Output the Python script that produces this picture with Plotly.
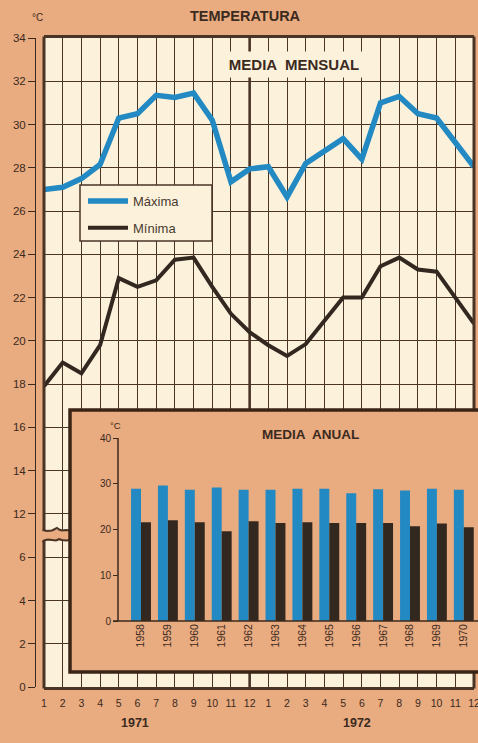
import plotly.graph_objects as go

# ---------------- data ----------------
months_1971 = list(range(1, 13))
months_1972 = list(range(1, 13))
month_labels = [str(m) for m in months_1971] + [str(m) for m in months_1972]
month_index = list(range(1, 25))

maxima = [27.0, 27.1, 27.5, 28.15, 30.3, 30.5, 31.35, 31.25, 31.45, 30.2, 27.35, 27.95,
          28.05, 26.65, 28.2, 28.75, 29.35, 28.4, 31.0, 31.3, 30.5, 30.3, 29.2, 28.05]
minima = [17.9, 19.0, 18.5, 19.8, 22.9, 22.5, 22.8, 23.75, 23.85, 22.5, 21.25, 20.4,
          19.8, 19.3, 19.85, 20.9, 22.0, 22.0, 23.45, 23.85, 23.3, 23.2, 22.0, 20.8]

years = list(range(1958, 1971))
year_labels = [str(y) for y in years]
anual_max = [28.9, 29.6, 28.7, 29.2, 28.7, 28.7, 28.9, 28.9, 27.9, 28.8, 28.5, 28.9, 28.7]
anual_min = [21.6, 22.0, 21.6, 19.6, 21.8, 21.4, 21.6, 21.4, 21.4, 21.4, 20.7, 21.3, 20.5]

y_tick_values = [0, 2, 4, 6, 12, 14, 16, 18, 20, 22, 24, 26, 28, 30, 32, 34]
inset_ticks = [0, 10, 20, 30, 40]

# ---------------- style ----------------
W, H = 478, 743
ML, MR, MT, MB = 35, 0, 38, 56
PW, PH = W - ML - MR, H - MT - MB
TAN = "#e9ab80"
CREAM = "#fcf2dc"
DARK = "#3b2a1e"
GRID = "#4a3426"
BLUE = "#2389c2"
BLACK = "#33281f"
FONT = "Liberation Sans, Arial, sans-serif"


def fx(px):
    return (px - ML) / PW


def fy(py):
    return 1 - (py - MT) / PH


def brk(v):
    # broken axis: values >= 12 are shifted down by 4 (6..12 gap removed)
    return v - 4 if v >= 12 else v


fig = go.Figure()

fig.add_trace(go.Scatter(x=month_index, y=[brk(v) for v in maxima], mode="lines",
                         name="Máxima", legendgroup="a",
                         line=dict(color=BLUE, width=5.5), xaxis="x", yaxis="y"))
fig.add_trace(go.Scatter(x=month_index, y=[brk(v) for v in minima], mode="lines",
                         name="Mínima", legendgroup="b",
                         line=dict(color=BLACK, width=4), xaxis="x", yaxis="y"))

fig.add_trace(go.Bar(x=years, y=anual_max, marker=dict(color=BLUE, line=dict(width=0)),
                     xaxis="x2", yaxis="y2", showlegend=False, name="Máxima anual"))
fig.add_trace(go.Bar(x=years, y=anual_min, marker=dict(color=BLACK, line=dict(width=0)),
                     xaxis="x2", yaxis="y2", showlegend=False, name="Mínima anual"))

mapped_ticks = [brk(v) for v in y_tick_values]

shapes = [
    # cream plot area
    dict(type="rect", xref="paper", yref="paper", x0=fx(44), x1=fx(474), y0=0, y1=1,
         fillcolor=CREAM, line=dict(width=0), layer="below"),
    # thick separator at month 12
    dict(type="line", xref="x", yref="y", x0=12, x1=12, y0=0, y1=30,
         line=dict(color=GRID, width=2.6), layer="below"),
    # left and right frame of the monthly chart
    dict(type="line", xref="paper", yref="paper", x0=fx(44), x1=fx(44), y0=fy(688.5), y1=fy(36.5),
         line=dict(color=GRID, width=3), layer="above"),
    dict(type="line", xref="paper", yref="paper", x0=fx(474), x1=fx(474), y0=fy(688.5), y1=fy(672),
         line=dict(color=GRID, width=3), layer="above"),
    dict(type="line", xref="paper", yref="paper", x0=fx(474), x1=fx(474), y0=fy(410), y1=fy(36.5),
         line=dict(color=GRID, width=3), layer="above"),
    # axis break band
    dict(type="rect", xref="paper", yref="paper", x0=fx(42), x1=fx(70), y0=fy(541), y1=fy(530),
         fillcolor=TAN, line=dict(width=0), layer="above"),
]


def pth(points):
    return "M " + " L ".join(f"{fx(a):.5f},{fy(b):.5f}" for a, b in points)


shapes.append(dict(type="path", xref="paper", yref="paper",
                   path=pth([(42.5, 530), (47, 531), (52, 530.5), (55, 529), (57, 528),
                             (59, 529.5), (62, 530.5), (66, 530), (70, 530.5)]),
                   line=dict(color=GRID, width=2), layer="above"))
shapes.append(dict(type="path", xref="paper", yref="paper",
                   path=pth([(42.5, 542), (44, 540.5), (48, 539.5), (52, 540), (56, 540.5),
                             (59, 539), (62, 540), (66, 540.5), (70, 540)]),
                   line=dict(color=GRID, width=2), layer="above"))

# legend box (drawn behind the transparent plotly legend)
shapes.append(dict(type="rect", xref="paper", yref="paper", x0=fx(80), x1=fx(212),
                   y0=fy(241), y1=fy(185), fillcolor=CREAM,
                   line=dict(color=GRID, width=1.5), layer="above"))

# inset frame and inset axes lines
shapes.append(dict(type="rect", xref="paper", yref="paper", x0=fx(70), x1=fx(482),
                   y0=fy(672), y1=fy(410), line=dict(color="#3a2416", width=3.5),
                   fillcolor="rgba(0,0,0,0)", layer="above"))
shapes.append(dict(type="line", xref="paper", yref="y2", x0=fx(118), x1=fx(118), y0=0, y1=40,
                   line=dict(color=DARK, width=1.5), layer="above"))
shapes.append(dict(type="line", xref="paper", yref="y2", x0=fx(113), x1=fx(480), y0=0, y1=0,
                   line=dict(color=DARK, width=1.5), layer="above"))


def ann(text, px, py, size, bold=False, **kw):
    t = f"<b>{text}</b>" if bold else text
    return dict(text=t, xref="paper", yref="paper", x=fx(px), y=fy(py),
                xanchor="center", yanchor="middle", showarrow=False,
                font=dict(size=size, color=DARK, family=FONT), **kw)


annotations = [
    ann("TEMPERATURA", 245, 16, 14.5, bold=True),
    ann("°C", 37, 18, 10),
    ann("MEDIA  MENSUAL", 294, 65, 15, bold=True, bgcolor=CREAM, width=148, height=23),
    ann("1971", 135, 723, 12.5, bold=True),
    ann("1972", 357, 723, 12.5, bold=True),
    ann("°C", 115, 425, 9.5),
    ann("MEDIA  ANUAL", 310, 434, 13.5, bold=True),
]

y2_lo = -(672 - 621) / 4.575
y2_hi = (621 - 410) / 4.575
yr_px = 26.9
x2_lo = 1958 - (141 - 70) / yr_px
x2_hi = x2_lo + (478 - 70) / yr_px

fig.update_layout(
    width=W, height=H,
    margin=dict(l=ML, r=MR, t=MT, b=MB, autoexpand=False),
    paper_bgcolor=TAN, plot_bgcolor=TAN,
    font=dict(family=FONT, color=DARK),
    barmode="group", bargap=0.26, bargroupgap=0,
    showlegend=True,
    legend=dict(x=fx(83), y=fy(186), xanchor="left", yanchor="top",
                bgcolor="rgba(0,0,0,0)", borderwidth=0,
                font=dict(size=13, color="#4a3a30", family=FONT),
                traceorder="grouped", tracegroupgap=7, itemwidth=40),
    xaxis=dict(domain=[fx(44), fx(474)], range=[1, 24], anchor="y",
               tickmode="array", tickvals=month_index, ticktext=month_labels,
               ticks="", tickfont=dict(size=10.5, color=DARK), ticklabelstandoff=4,
               ticklabeloverflow="allow", automargin=False,
               showgrid=True, gridcolor=GRID, gridwidth=1.2,
               showline=True, linecolor=GRID, linewidth=3, mirror=True, zeroline=False),
    yaxis=dict(domain=[0, 1], range=[0, 30], anchor="free", position=0, side="left",
               tickmode="array", tickvals=mapped_ticks,
               ticktext=[str(v) for v in y_tick_values], automargin=False,
               ticks="outside", ticklen=7, tickwidth=1.2, tickcolor=DARK,
               tickfont=dict(size=11.5, color=DARK),
               showgrid=True, gridcolor=GRID, gridwidth=1.2,
               showline=True, linecolor=DARK, linewidth=1, zeroline=False),
    xaxis2=dict(domain=[fx(70), 1], range=[x2_lo, x2_hi], anchor="free", position=fy(621),
                tickmode="array", tickvals=years, ticktext=year_labels, tickangle=-90,
                ticks="", tickfont=dict(size=10.5, color=DARK), automargin=False,
                showgrid=False, showline=False, zeroline=False),
    yaxis2=dict(domain=[fy(672), fy(410)], range=[y2_lo, y2_hi], anchor="free",
                position=fx(118), tickmode="array", tickvals=inset_ticks,
                ticks="outside", ticklen=5, tickwidth=1.2, tickcolor=DARK,
                tickfont=dict(size=10, color=DARK), automargin=False,
                showgrid=False, showline=False, zeroline=False),
    shapes=shapes,
    annotations=annotations,
)

fig.write_html("out.html", config={"displayModeBar": False},
               post_script="document.body.style.margin='0';")
